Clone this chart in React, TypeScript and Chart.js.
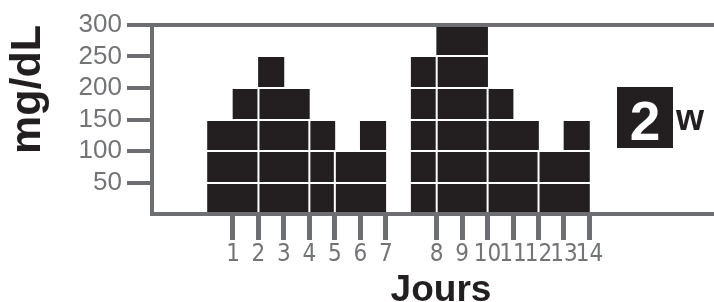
import React, { useEffect, useRef } from "react";
import { Chart, registerables } from "chart.js";

Chart.register(...registerables);

// ---- data ----
const dayLabels = ["1", "2", "3", "4", "5", "6", "7", "8", "9", "10", "11", "12", "13", "14"];
const tickPositions = [1, 2, 3, 4, 5, 6, 7, 9, 10, 11, 12, 13, 14, 15];
const glucose = [150, 200, 250, 200, 150, 100, 150, 250, 300, 300, 200, 150, 100, 150];
const dividerX = [2, 4, 5, 9, 11, 13];
const dividerTop = [200, 150, 100, 250, 200, 100];
const yTickValues = [0, 50, 100, 150, 200, 250, 300];

const GRAY = "#6d6e71";
const LABEL_GRAY = "#737477";
const BLACK = "#231f20";

export default function App() {
  const ref = useRef<HTMLCanvasElement | null>(null);

  useEffect(() => {
    if (!ref.current) return;
    const barData = tickPositions.map((p, i) => ({ x: p - 0.5, y: glucose[i] }));
    const dividerData: any[] = [];
    dividerX.forEach((x, i) => {
      dividerData.push({ x, y: 0 }, { x, y: dividerTop[i] }, { x, y: null });
    });

    const chart = new Chart(ref.current, {
      type: "bar",
      data: {
        datasets: [
          {
            type: "line",
            data: dividerData,
            borderColor: "#ffffff",
            borderWidth: 2,
            pointRadius: 0,
            spanGaps: false,
            fill: false,
            order: 0,
          } as any,
          {
            type: "bar",
            data: barData,
            backgroundColor: BLACK,
            borderWidth: 0,
            barPercentage: 1,
            categoryPercentage: 1,
            order: 1,
          } as any,
        ],
      },
      options: {
        animation: false,
        responsive: false,
        devicePixelRatio: 1,
        layout: { padding: { top: 25, left: 0, right: 0, bottom: 0 } },
        plugins: { legend: { display: false }, tooltip: { enabled: false } },
        scales: {
          x: {
            type: "linear",
            min: -2.181,
            max: 20.52,
            offset: false,
            afterFit: (s: any) => {
              s.height = 88;
            },
            afterBuildTicks: (s: any) => {
              s.ticks = tickPositions.map((v) => ({ value: v }));
            },
            grid: {
              display: true,
              drawOnChartArea: false,
              drawTicks: true,
              tickLength: 26,
              tickColor: GRAY,
              tickWidth: 5,
              offset: false,
            },
            border: { display: true, color: GRAY, width: 4, z: 2 },
            ticks: {
              autoSkip: false,
              maxRotation: 0,
              minRotation: 0,
              padding: 0,
              color: LABEL_GRAY,
              font: { family: '"Liberation Sans Narrow", "DejaVu Sans Condensed", sans-serif', size: 24 },
              callback: (v: any) => {
                const i = tickPositions.indexOf(Number(v));
                return i >= 0 ? dayLabels[i] : "";
              },
            },
            title: {
              display: true,
              text: "Jours",
              color: BLACK,
              font: { family: '"Liberation Sans", sans-serif', size: 37, weight: "bold", lineHeight: 1 },
              padding: { top: 0, bottom: -7 },
            },
          },
          y: {
            type: "linear",
            min: 0,
            max: 300,
            afterFit: (s: any) => {
              s.width = 152;
            },
            afterBuildTicks: (s: any) => {
              s.ticks = yTickValues.map((v) => ({ value: v }));
            },
            grid: {
              z: 1,
              drawTicks: true,
              tickLength: 25,
              color: (c: any) =>
                c.tick && c.tick.value === 300 ? GRAY : c.tick && c.tick.value === 0 ? "rgba(0,0,0,0)" : "#ffffff",
              lineWidth: (c: any) => (c.tick && c.tick.value === 300 ? 4 : 2),
              tickColor: (c: any) => (c.tick && c.tick.value === 0 ? "rgba(0,0,0,0)" : GRAY),
              tickWidth: 4,
            },
            border: { display: true, color: GRAY, width: 4, z: 2 },
            ticks: {
              autoSkip: false,
              padding: 5,
              color: LABEL_GRAY,
              font: { family: '"Liberation Sans", sans-serif', size: 26 },
              callback: (v: any) => (Number(v) === 0 ? "" : String(v)),
            },
            title: {
              display: true,
              text: "mg/dL",
              align: "end",
              color: BLACK,
              font: { family: '"Liberation Sans", sans-serif', size: 43, weight: "bold" },
              padding: { top: 2, bottom: 0 },
            },
          },
        },
      },
    });
    return () => chart.destroy();
  }, []);

  return (
    <div style={{ position: "absolute", left: 0, top: 0, width: 714, height: 302, overflow: "hidden", background: "#fff" }}>
      <canvas ref={ref} width={730} height={302} style={{ position: "absolute", left: 0, top: 0 }} />
      <div
        style={{
          position: "absolute",
          left: 617,
          top: 87,
          width: 56,
          height: 61,
          background: BLACK,
        }}
      />
      <div
        style={{
          position: "absolute",
          left: 617,
          top: 94,
          width: 56,
          textAlign: "center",
          color: "#ffffff",
          fontFamily: '"Liberation Sans", sans-serif',
          fontWeight: "bold",
          fontSize: 55,
          lineHeight: "55px",
        }}
      >
        2
      </div>
      <div
        style={{
          position: "absolute",
          left: 676,
          top: 100,
          color: BLACK,
          fontFamily: '"Liberation Sans", sans-serif',
          fontWeight: "bold",
          fontSize: 36,
          lineHeight: "35px",
        }}
      >
        w
      </div>
    </div>
  );
}
